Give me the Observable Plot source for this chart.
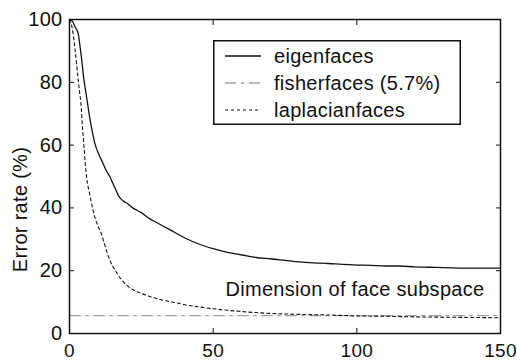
<!DOCTYPE html>
<html>
<head>
<meta charset="utf-8">
<script src="https://cdn.jsdelivr.net/npm/d3@7"></script>
<script src="https://cdn.jsdelivr.net/npm/@observablehq/plot@0.6"></script>
<style>
  html, body { margin: 0; padding: 0; background: #fff; }
  #wrap { position: relative; width: 517px; height: 362px; }
  #wrap svg text { letter-spacing: 0.3px; }
  #legend { position: absolute; left: 213px; top: 40px; }
</style>
</head>
<body>
<div id="wrap"></div>
<script>
// ---- data ----
const eigenDims = [0,1,2,3,4,5,6,7,8,9,10,11,12,13,14,15,16,17,18,19,20,22,25,28,30,35,40,45,50,55,60,65,70,75,80,85,90,95,100,105,110,115,120,125,130,140,150];
const eigenErr  = [100,99.5,97.5,95.5,89,81,75,69,64,60,57.5,55.5,53.5,51.5,50,48,46,44,42.8,42,41.5,40,38.5,36.5,35.5,33,30.5,28.5,27,25.8,25,24.2,23.8,23.3,22.8,22.5,22.3,22,21.8,21.7,21.5,21.5,21.2,21.1,21,20.8,20.8];
const lapDims = [0,1,2,3,3.5,4,4.5,5,5.5,6,7,8,9,10,11,12,13,14,15,16,17,18,19,20,22,25,27,30,33,37,41,45,49,55,60,64,70,80,90,100,110,120,130,140,150];
const lapErr  = [100,97,90,81,77,73,66,60,54,49.5,44.5,40,36.5,34,32,29,26,23.5,21.5,20,18.5,17.3,16.2,15.3,14,12.8,12.1,11.2,10.5,9.8,9,8.5,8,7.4,7,6.7,6.4,6.1,5.9,5.6,5.5,5.3,5.2,5.1,5];
const fisherDims = [0,150];
const fisherErr = [5.7,5.7];
const seriesNames = ["eigenfaces","fisherfaces (5.7%)","laplacianfaces"];
const xTicks = [0,50,100,150];
const yTicks = [0,20,40,60,80,100];
const xLabel = "Dimension of face subspace";
const yLabel = "Error rate (%)";

const eigen = eigenDims.map((d,i)=>({d, v: eigenErr[i]}));
const lap = lapDims.map((d,i)=>({d, v: lapErr[i]}));
const fisher = fisherDims.map((d,i)=>({d, v: fisherErr[i]}));

const font = "'Liberation Sans', Arial, sans-serif";
const ink = "#111";
const FS = 20;

const chart = Plot.plot({
  width: 517, height: 362,
  marginTop: 19, marginRight: 17, marginBottom: 29, marginLeft: 69,
  style: {fontFamily: font, color: ink, background: "#fff"},
  x: {domain: [0,150]},
  y: {domain: [0,100]},
  marks: [
    Plot.line(fisher, {x:"d", y:"v", stroke:"#a0a0a0", strokeWidth:1.4, strokeDasharray:"11,5,3,5"}),
    Plot.line(lap, {x:"d", y:"v", stroke:ink, strokeWidth:1.1, strokeDasharray:"3,3", curve:"monotone-x"}),
    Plot.line(eigen, {x:"d", y:"v", stroke:ink, strokeWidth:1.3, curve:"monotone-x"}),
    // inward ticks
    Plot.axisX({anchor:"bottom", ticks:xTicks, tickSize:-5, tickFormat:()=>"", label:null}),
    Plot.axisX({anchor:"top", ticks:xTicks, tickSize:-5, tickFormat:()=>"", label:null}),
    Plot.axisY({anchor:"left", ticks:yTicks, tickSize:-5, tickFormat:()=>"", label:null}),
    Plot.axisY({anchor:"right", ticks:yTicks, tickSize:-5, tickFormat:()=>"", label:null}),
    // tick labels
    Plot.axisX({anchor:"bottom", ticks:xTicks, tickSize:0, tickPadding:10, fontSize:19, label:null}),
    Plot.axisY({anchor:"left", ticks:yTicks, tickSize:0, tickPadding:7, fontSize:FS, label:null}),
    Plot.frame({stroke:ink, strokeWidth:1.5}),
    Plot.text([xLabel], {text:d=>d, frameAnchor:"bottom-right", dx:-16, dy:-37.5, textAnchor:"end", fontSize:FS, fill:ink}),
    Plot.text([yLabel], {text:d=>d, frameAnchor:"left", dx:-49, dy:33, rotate:-90, textAnchor:"middle", lineAnchor:"middle", fontSize:FS, fill:ink})
  ]
});
document.getElementById("wrap").appendChild(chart);

// legend overlay (inside the plot box)
const styles = [
  {stroke: ink, dash: null, w: 1.3},
  {stroke: "#a0a0a0", dash: "11,5,3,5", w: 1.4},
  {stroke: ink, dash: "3,3", w: 1.1}
];
const W = 248, H = 85, rowY = [16, 43, 70];
const lg = d3.select("#wrap").append("svg").attr("id","legend").attr("width", W).attr("height", H)
  .style("font-family", font);
lg.append("rect").attr("x",0.75).attr("y",0.75).attr("width",W-1.5).attr("height",H-1.5)
  .attr("fill","#fff").attr("stroke",ink).attr("stroke-width",1.5);
seriesNames.forEach((name,i)=>{
  lg.append("line").attr("x1",12).attr("x2",48).attr("y1",rowY[i]).attr("y2",rowY[i])
    .attr("stroke",styles[i].stroke).attr("stroke-width",styles[i].w)
    .attr("stroke-dasharray",styles[i].dash);
  lg.append("text").attr("x",61).attr("y",rowY[i]).attr("dy","0.35em")
    .attr("font-size",FS).attr("fill",ink).style("letter-spacing","0.3px").text(name);
});
</script>
</body>
</html>
